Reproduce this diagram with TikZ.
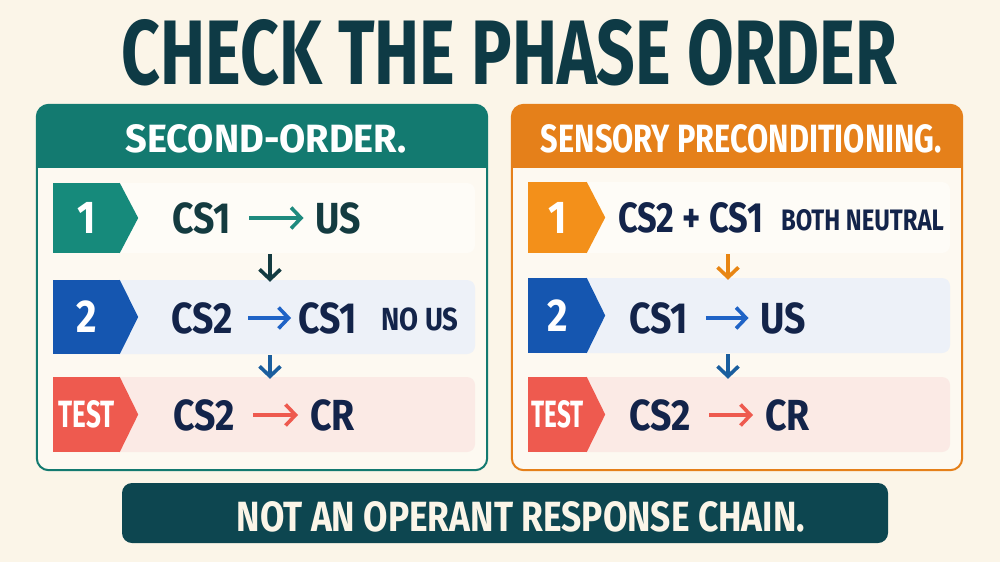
\documentclass[tikz,border=0pt]{standalone}
\usepackage{graphicx}
\usepackage{fontspec}
\setmainfont{Fira Sans}[FakeStretch=0.86]
\usetikzlibrary{arrows.meta,positioning,calc}

\definecolor{cream}{HTML}{FBF5E8}
\definecolor{panelbg}{HTML}{FDF9F1}
\definecolor{tealhead}{HTML}{137A70}
\definecolor{orangehead}{HTML}{E5801A}
\definecolor{badgeteal}{HTML}{168A7B}
\definecolor{badgeblue}{HTML}{1556B0}
\definecolor{badgeorange}{HTML}{F3901A}
\definecolor{coral}{HTML}{EE5A4F}
\definecolor{rowone}{HTML}{FEFCF7}
\definecolor{rowtwo}{HTML}{EDF1F8}
\definecolor{rowthree}{HTML}{FBEAE5}
\definecolor{titleink}{HTML}{0E3A45}
\definecolor{navy}{HTML}{13244A}
\definecolor{inkteal}{HTML}{143B40}
\definecolor{arrowteal}{HTML}{1E8A7E}
\definecolor{arrowblue}{HTML}{1F63C6}
\definecolor{downblue}{HTML}{1A5E9E}
\definecolor{downorange}{HTML}{E88512}
\definecolor{barfill}{HTML}{0D4650}

\newcommand{\fitbox}[3]{\resizebox{#1pt}{#2pt}{#3}}

\tikzset{
  panel/.style={rounded corners=12pt, minimum width=450pt, minimum height=365pt, inner sep=0pt},
  head/.style={inner sep=0pt, text=white, font=\bfseries},
  rowbox/.style={rounded corners=8pt, minimum width=422pt, inner sep=0pt},
  badge/.style={inner sep=0pt, anchor=west, text=white, font=\bfseries\fontsize{46}{46}\selectfont},
  cs/.style={inner sep=0pt, text=navy, font=\bfseries\fontsize{43.5}{44}\selectfont},
  note/.style={inner sep=0pt, text=navy, font=\bfseries\fontsize{32}{32}\selectfont},
  link/.style={line width=3.6pt, -{Straight Barb[length=10pt,width=21pt]}, shorten <=18pt, shorten >=12pt},
  down/.style={line width=3.6pt, -{Straight Barb[length=10pt,width=21pt]}, shorten <=1pt, shorten >=-2pt}
}

\begin{document}
\begin{tikzpicture}[x=1pt,y=-1pt]
\fill[cream] (0,0) rectangle (1000,562);
\useasboundingbox (0,0) rectangle (1000,562);

% title
\node[inner sep=0pt, text=titleink, font=\bfseries] (title) at (509.5,52.5) {\fitbox{775}{65}{CHECK THE PHASE ORDER}};

% panels
\node[panel, fill=panelbg] (left) at (262,287.5) {};
\node[panel, fill=panelbg] (right) at (737,287.5) {};
\begin{scope}
  \clip[rounded corners=12pt] (left.north west) rectangle (left.south east);
  \fill[tealhead] (left.north west) rectangle ($(left.north east)+(0,63)$);
\end{scope}
\begin{scope}
  \clip[rounded corners=12pt] (right.north west) rectangle (right.south east);
  \fill[orangehead] (right.north west) rectangle ($(right.north east)+(0,63)$);
\end{scope}
\draw[tealhead, line width=2pt, rounded corners=12pt] (left.north west) rectangle (left.south east);
\draw[orangehead, line width=2pt, rounded corners=12pt] (right.north west) rectangle (right.south east);

\node[head] (lefthead) at (266,139) {\fitbox{281}{28}{SECOND-ORDER.}};
\node[head] (righthead) at (741.5,139) {\fitbox{401}{28}{SENSORY PRECONDITIONING.}};

% rows
\node[rowbox, fill=rowone, minimum height=70pt] (l1) at (264,218) {};
\node[rowbox, fill=rowtwo, minimum height=74pt] (l2) at (264,317) {};
\node[rowbox, fill=rowthree, minimum height=75pt] (l3) at (264,414.5) {};
\node[rowbox, fill=rowone, minimum height=71pt] (r1) at (739,217.5) {};
\node[rowbox, fill=rowtwo, minimum height=75pt] (r2) at (739,315.5) {};
\node[rowbox, fill=rowthree, minimum height=75pt] (r3) at (739,414.5) {};

% badges
\node[badge, fill=badgeteal, minimum width=67pt, minimum height=70pt] (l1b) at (l1.west) {1};
\node[badge, fill=badgeblue, minimum width=67pt, minimum height=74pt] (l2b) at (l2.west) {2};
\node[badge, fill=coral, minimum width=67pt, minimum height=75pt] (l3b) at (l3.west) {\fitbox{56}{27}{TEST}};
\node[badge, fill=badgeorange, minimum width=59pt, minimum height=71pt] (r1b) at (r1.west) {1};
\node[badge, fill=badgeblue, minimum width=59pt, minimum height=75pt] (r2b) at (r2.west) {2};
\node[badge, fill=coral, minimum width=59pt, minimum height=75pt] (r3b) at (r3.west) {\fitbox{52}{27}{TEST}};
\foreach \b/\c in {l1b/badgeteal, l2b/badgeblue, l3b/coral, r1b/badgeorange, r2b/badgeblue, r3b/coral}
  \fill[\c] ([xshift=-0.5pt]\b.north east) -- ([xshift=18pt]\b.east) -- ([xshift=-0.5pt]\b.south east) -- cycle;

% second-order
\node[cs, text=inkteal] (so1a) at (202,218) {CS1};
\node[cs, text=inkteal] (so1b) at (338.5,218) {US};
\node[cs] (so2a) at (202.5,318) {CS2};
\node[cs] (so2b) at (327.5,318) {CS1};
\node[note] (so2c) at (420,319) {NO US};
\node[cs] (so3a) at (204,415) {CS2};
\node[cs] (so3b) at (332.5,415) {CR};
\draw[link, arrowteal] (so1a) -- (so1b);
\draw[link, arrowblue, shorten <=15pt, shorten >=7pt] (so2a) -- (so2b);
\draw[link, coral] (so3a) -- (so3b);

% sensory preconditioning
\node[cs] (sp1a) at (690.5,218) {\fitbox{145}{30}{CS2 + CS1}};
\node[note] (sp1b) at (862.5,220.5) {\fitbox{163}{21}{BOTH NEUTRAL}};
\node[cs] (sp2a) at (658.5,318) {CS1};
\node[cs] (sp2b) at (783.5,318) {US};
\node[cs] (sp3a) at (660.5,415) {CS2};
\node[cs] (sp3b) at (787.5,415) {CR};
\draw[link, arrowblue] (sp2a) -- (sp2b);
\draw[link, coral] (sp3a) -- (sp3b);

% phase arrows
\coordinate (ldown) at (270,0);
\coordinate (rdown) at (728,0);
\draw[down, inkteal] (l1.south -| ldown) -- (l2.north -| ldown);
\draw[down, downblue] (l2.south -| ldown) -- (l3.north -| ldown);
\draw[down, downorange] (r1.south -| rdown) -- (r2.north -| rdown);
\draw[down, downblue] (r2.south -| rdown) -- (r3.north -| rdown);

% bottom note
\node[fill=barfill, rounded corners=10pt, minimum width=766pt, minimum height=60pt, inner sep=0pt] (bar) at (505,513) {};
\node[inner sep=0pt, text=cream, font=\bfseries] (bartext) at (521,517) {\fitbox{568}{30}{NOT AN OPERANT RESPONSE CHAIN.}};
\end{tikzpicture}
\end{document}
